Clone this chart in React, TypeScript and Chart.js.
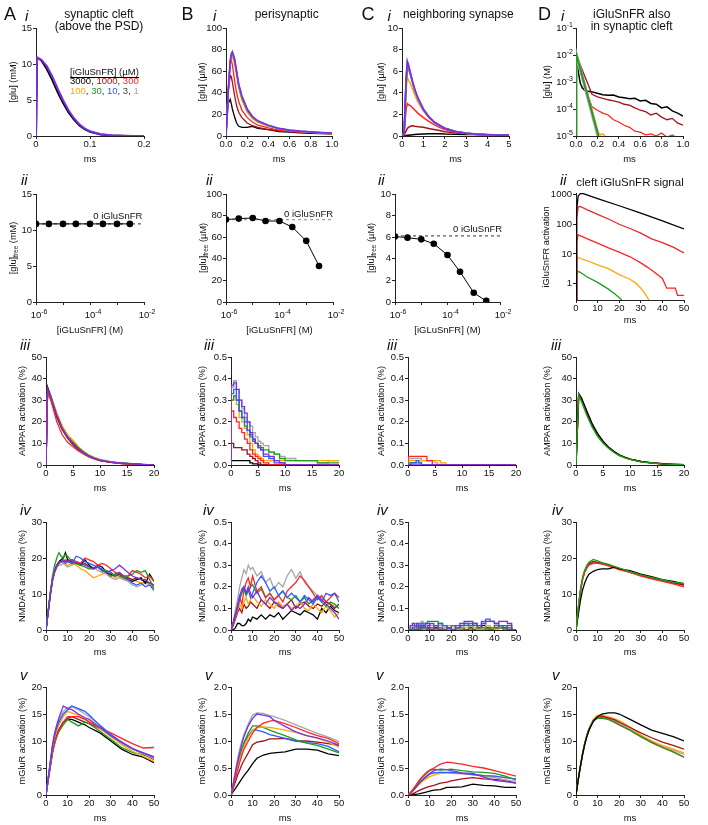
import React, { useEffect, useRef } from "react";
import { Chart, registerables } from "chart.js";
Chart.register(...registerables);

const FONT = '"Liberation Sans", Arial, Helvetica, sans-serif';
const K = "#000000", DR = "#a51218", R = "#ff2424", O = "#ffa800", G = "#1c9e1c", B = "#2a5cff", P = "#7b2fe3", GY = "#a6a6a6";

// ---------- Row i : [glu] transients ----------
const A1_T = [0, 0.002, 0.01, 0.02, 0.03, 0.04, 0.05, 0.06, 0.07, 0.08, 0.09, 0.1, 0.12, 0.14, 0.16, 0.18, 0.2];
const A1_BLACK = [0, 10.9, 10.5, 9.3, 7.8, 6.1, 4.6, 3.3, 2.3, 1.5, 0.95, 0.6, 0.22, 0.08, 0.03, 0.01, 0];
const A1_PURPLE = [0, 10.9, 10.6, 9.7, 8.3, 6.6, 5.0, 3.6, 2.5, 1.65, 1.05, 0.65, 0.25, 0.09, 0.03, 0.01, 0];

const B1_T = [0, 0.02, 0.04, 0.05, 0.06, 0.08, 0.1, 0.12, 0.15, 0.2, 0.25, 0.3, 0.4, 0.5, 0.6, 0.7, 0.8, 0.9, 1.0];
const B1_BLACK = [0, 30, 34, 30, 25, 18, 12, 9, 8, 8, 9, 7, 6, 4, 3.5, 3, 2.5, 2.2, 2];
const B1_DARKRED = [0, 40, 56, 55, 50, 38, 28, 22, 17, 12, 9.5, 8, 6, 5, 4, 3.4, 2.8, 2.4, 2.2];
const B1_RED = [0, 42, 67, 70, 66, 52, 40, 32, 24, 17, 13, 10, 7.5, 5.5, 4.5, 3.8, 3.3, 2.8, 2.5];
const B1_ORANGE = [0, 40, 68, 73, 73, 67, 56, 44, 33, 22, 16, 12.5, 9, 6.5, 5, 4, 3.4, 2.9, 2.5];
const B1_GREEN = [0, 40, 69, 75, 76, 70, 58, 46, 35, 23.5, 17, 13.2, 9.5, 6.8, 5.3, 4.3, 3.6, 3.0, 2.6];
const B1_BLUE = [0, 40, 69, 75, 77, 71, 59, 47.5, 36.5, 24.5, 17.8, 13.8, 9.8, 6.9, 5.4, 4.4, 3.7, 3.1, 2.7];
const B1_GRAY = [0, 39, 69, 75, 77, 71, 59, 47, 36, 24.5, 17.5, 13.5, 9.5, 6.8, 5.3, 4.3, 3.6, 3.1, 2.7];
const B1_PURPLE = [0, 40, 70, 76, 78, 72, 60, 48, 37, 25, 18, 14, 10, 7, 5.5, 4.5, 3.8, 3.2, 2.8];

const C1_T = [0, 0.1, 0.15, 0.2, 0.25, 0.3, 0.4, 0.5, 0.6, 0.75, 1, 1.25, 1.5, 1.75, 2, 2.5, 3, 3.5, 4, 4.5, 5];
const C1_BLACK = [0, 0, 0.02, 0.04, 0.06, 0.08, 0.1, 0.12, 0.14, 0.16, 0.18, 0.2, 0.2, 0.2, 0.18, 0.17, 0.15, 0.13, 0.12, 0.1, 0.09];
const C1_DARKRED = [0, 0.05, 0.3, 0.5, 0.7, 0.8, 0.9, 0.95, 0.9, 0.85, 0.8, 0.7, 0.6, 0.5, 0.4, 0.3, 0.2, 0.15, 0.1, 0.08, 0.06];
const C1_RED = [0, 0.2, 1.5, 2.6, 3.0, 2.9, 2.8, 2.6, 2.4, 2.1, 1.7, 1.35, 1.05, 0.8, 0.6, 0.35, 0.22, 0.15, 0.1, 0.08, 0.05];
const C1_ORANGE = [0, 0.3, 2.5, 4.5, 5.4, 5.2, 4.8, 4.3, 3.8, 3.1, 2.3, 1.7, 1.25, 0.95, 0.7, 0.42, 0.26, 0.17, 0.12, 0.09, 0.07];
const C1_GREEN = [0, 0.3, 2.8, 5, 6.1, 6.2, 5.6, 4.9, 4.2, 3.4, 2.4, 1.75, 1.3, 1, 0.75, 0.45, 0.28, 0.18, 0.12, 0.09, 0.07];
const C1_BLUE = [0, 0.3, 3, 5.4, 6.7, 6.5, 5.7, 4.9, 4.2, 3.4, 2.4, 1.75, 1.25, 0.95, 0.7, 0.4, 0.25, 0.17, 0.12, 0.09, 0.07];
const C1_GRAY = [0, 0.3, 3, 5.4, 6.8, 6.5, 5.7, 4.9, 4.2, 3.4, 2.4, 1.75, 1.25, 0.95, 0.7, 0.4, 0.25, 0.17, 0.12, 0.09, 0.07];
const C1_PURPLE = [0, 0.3, 3, 5.5, 6.9, 6.6, 5.8, 5, 4.3, 3.5, 2.5, 1.8, 1.3, 1, 0.7, 0.4, 0.25, 0.17, 0.12, 0.09, 0.07];

const D1_BLACK_T = [0, 0.002, 0.02, 0.04, 0.06, 0.08, 0.1, 0.15, 0.2, 0.25, 0.3, 0.35, 0.4, 0.45, 0.5, 0.55, 0.6, 0.65, 0.7, 0.75, 0.8, 0.85, 0.9, 0.95, 1.0];
const D1_BLACK = [1e-7, 1.1e-2, 2.5e-3, 9e-4, 6e-4, 5e-4, 4.6e-4, 4.3e-4, 3.8e-4, 3.4e-4, 3.2e-4, 3.3e-4, 2.8e-4, 2.6e-4, 2.4e-4, 2.5e-4, 2e-4, 2.1e-4, 1.6e-4, 1.5e-4, 1.1e-4, 1.2e-4, 8.5e-5, 7e-5, 5.5e-5];
const D1_DARKRED_T = [0, 0.002, 0.05, 0.1, 0.15, 0.2, 0.25, 0.3, 0.35, 0.4, 0.45, 0.5, 0.55, 0.6, 0.65, 0.7, 0.75, 0.8, 0.85, 0.9, 0.95, 1.0];
const D1_DARKRED = [1e-7, 1.1e-2, 3.4e-3, 1.1e-3, 3.5e-4, 2.8e-4, 2.5e-4, 2.2e-4, 2e-4, 1.8e-4, 1.5e-4, 1.4e-4, 1.1e-4, 9e-5, 8e-5, 6e-5, 7e-5, 5e-5, 4e-5, 4.5e-5, 3e-5, 2.5e-5];
const D1_RED_T = [0, 0.002, 0.05, 0.1, 0.12, 0.15, 0.2, 0.25, 0.3, 0.35, 0.4, 0.45, 0.5, 0.55, 0.6, 0.65, 0.7, 0.75, 0.8, 0.85, 0.9, 0.95, 1.0];
const D1_RED = [1e-7, 1.1e-2, 2.3e-3, 5e-4, 2.5e-4, 1.2e-4, 9e-5, 7e-5, 6e-5, 4e-5, 3.3e-5, 2.5e-5, 2.1e-5, 1.5e-5, 1.4e-5, 1.1e-5, 1.2e-5, 1e-5, 1.3e-5, 9e-6, 1.1e-5, 8e-6, 9e-6];
const D1_ORANGE_T = [0, 0.002, 0.21, 0.23, 0.25, 0.27, 0.28];
const D1_ORANGE = [1e-7, 1.1e-2, 1.3e-5, 1.1e-5, 1.2e-5, 1e-5, 5e-6];
const D1_GRAY_T = [0, 0.002, 0.205, 0.22];
const D1_GRAY = [1e-7, 1.1e-2, 1e-5, 1e-6];
const D1_GREEN_T = [0, 0.002, 0.21, 0.225];
const D1_GREEN = [1e-7, 1.1e-2, 1e-5, 1e-6];

// ---------- Row ii : free glutamate vs [iGluSnFR] ----------
const CONC = [1e-6, 3e-6, 1e-5, 3e-5, 1e-4, 3e-4, 1e-3, 3e-3];
const A2_FREE = [10.85, 10.85, 10.85, 10.85, 10.85, 10.85, 10.85, 10.85];
const A2_ZERO = 10.85;
const B2_FREE = [76.3, 77.2, 77.8, 75, 75, 69.4, 56.6, 33.4];
const B2_ZERO = 76.2;
const C2_FREE = [6.06, 5.96, 5.8, 5.4, 4.35, 2.8, 0.85, 0.1];
const C2_ZERO = 6.12;

const D2_BLACK_T = [0, 0.3, 1, 2, 3, 10, 20, 30, 40, 50];
const D2_BLACK = [0.1, 300, 900, 1080, 1100, 730, 420, 235, 130, 70];
const D2_DARKRED_T = [0, 0.3, 1, 2, 5, 10, 15, 20, 25, 30, 35, 40, 45, 50];
const D2_DARKRED = [0.1, 150, 380, 400, 310, 215, 150, 100, 72, 50, 32, 24, 17, 10.7];
const D2_RED_T = [0, 0.3, 1, 3, 5, 10, 15, 20, 25, 30, 33, 36, 40, 42, 46, 47, 50];
const D2_RED = [0.1, 25, 44, 38, 33, 23, 16, 11.5, 8, 5, 3.6, 2.5, 1.5, 0.7, 0.7, 0.4, 0.4];
const D2_ORANGE_T = [0, 0.3, 1, 2, 5, 10, 15, 20, 25, 28, 30, 32, 33.5, 34];
const D2_ORANGE = [0.1, 6, 7.7, 7, 6, 4.3, 3.2, 2, 1.4, 1.0, 0.7, 0.45, 0.3, 0.2];
const D2_GREEN_T = [0, 0.3, 1, 2, 5, 10, 15, 18, 21, 21.5];
const D2_GREEN = [0.1, 2, 2.6, 2.4, 1.7, 1.1, 0.65, 0.45, 0.29, 0.2];

// ---------- Row iii : AMPAR ----------
const A3_T = [0, 0.3, 1, 2, 3, 4, 5, 6, 7, 8, 9, 10, 12, 14, 16, 18, 20];
const A3_BLACK = [0, 36, 31, 23, 17, 13, 10, 7.5, 5.5, 4, 3, 2.2, 1.3, 0.8, 0.5, 0.2, 0];
const A3_DARKRED = [0, 35, 30, 22, 16.5, 12.5, 9.5, 7, 5.2, 3.8, 2.8, 2, 1.2, 0.7, 0.4, 0.2, 0];
const A3_RED = [0, 34, 29, 20, 14, 10.5, 8.5, 6.5, 5, 3.8, 2.8, 2, 1.2, 0.7, 0.4, 0.2, 0];
const A3_ORANGE = [0, 35, 31, 24, 18, 14, 11.5, 8.5, 6.2, 4.5, 3.3, 2.4, 1.4, 0.9, 0.5, 0.2, 0];
const A3_GREEN = [0, 35, 30.5, 23, 17, 13, 10.5, 8, 6, 4.3, 3.2, 2.3, 1.4, 0.9, 0.6, 0.3, 0.1];
const A3_BLUE = [0, 35, 30, 22.5, 16.5, 12.5, 9.5, 7.2, 5.3, 3.9, 2.9, 2.1, 1.2, 0.8, 0.5, 0.2, 0];
const A3_GRAY = [0, 36, 31.5, 24, 18, 13.8, 10.8, 8.2, 6.1, 4.6, 3.5, 2.6, 1.6, 1, 0.6, 0.3, 0.1];
const A3_PURPLE = [0, 35, 30.5, 23, 17, 12.8, 10, 7.5, 5.5, 4, 3, 2.2, 1.3, 0.8, 0.5, 0.2, 0];

const B3_T = [0, 0.5, 1, 1.5, 2, 2.5, 3, 3.5, 4, 4.5, 5, 5.5, 6, 7, 8, 9, 10, 11, 12, 14, 16, 17, 18, 20];
const B3_BLACK = [0, 0.02, 0.02, 0.02, 0.02, 0.02, 0.02, 0.02, 0.01, 0.005, 0.005, 0, 0, 0, 0, 0, 0, 0, 0, 0, 0, 0, 0, 0];
const B3_DARKRED = [0, 0.1, 0.08, 0.08, 0.08, 0.07, 0.07, 0.05, 0.04, 0.03, 0.02, 0.01, 0, 0, 0, 0, 0, 0, 0, 0, 0, 0, 0, 0];
const B3_RED = [0, 0.25, 0.22, 0.2, 0.17, 0.15, 0.12, 0.1, 0.07, 0.05, 0.04, 0.03, 0.02, 0.01, 0, 0, 0, 0, 0, 0, 0, 0, 0, 0];
const B3_ORANGE = [0, 0.3, 0.32, 0.28, 0.22, 0.2, 0.17, 0.14, 0.1, 0.07, 0.05, 0.04, 0.03, 0.02, 0.02, 0.02, 0.02, 0.02, 0.02, 0.02, 0.02, 0.02, 0.02, 0.02];
const B3_GREEN = [0, 0.3, 0.32, 0.3, 0.25, 0.22, 0.18, 0.16, 0.14, 0.12, 0.1, 0.09, 0.08, 0.07, 0.06, 0.05, 0.03, 0.02, 0.02, 0.02, 0.02, 0.01, 0.01, 0.01];
const B3_BLUE = [0, 0.33, 0.35, 0.3, 0.25, 0.22, 0.2, 0.16, 0.13, 0.11, 0.1, 0.08, 0.07, 0.04, 0.03, 0.01, 0.01, 0, 0, 0, 0, 0, 0, 0];
const B3_GRAY = [0, 0.36, 0.39, 0.35, 0.3, 0.26, 0.22, 0.2, 0.18, 0.15, 0.13, 0.11, 0.1, 0.09, 0.06, 0.05, 0.04, 0.03, 0.03, 0.02, 0.02, 0.01, 0.01, 0.02];
const B3_PURPLE = [0, 0.37, 0.38, 0.35, 0.3, 0.27, 0.24, 0.2, 0.15, 0.12, 0.1, 0.08, 0.07, 0.05, 0.04, 0.02, 0.01, 0, 0, 0, 0, 0, 0, 0];

const C3_RED = [0, 0.04, 0.04, 0.04, 0.04, 0.04, 0.04, 0.04, 0.02, 0.02, 0, 0, 0, 0, 0, 0, 0, 0, 0, 0, 0, 0, 0, 0];
const C3_ORANGE = [0, 0.02, 0.02, 0.02, 0.02, 0.02, 0.02, 0.02, 0.02, 0.02, 0.02, 0.02, 0.02, 0.01, 0, 0, 0, 0, 0, 0, 0, 0, 0, 0];
const C3_GRAY = [0, 0.03, 0.03, 0.03, 0.03, 0.03, 0.02, 0.02, 0.02, 0.02, 0.02, 0.01, 0, 0, 0, 0, 0, 0, 0, 0, 0, 0, 0, 0];
const C3_BLUE = [0, 0, 0.01, 0.01, 0.02, 0.01, 0, 0, 0, 0, 0, 0, 0, 0, 0, 0, 0, 0, 0, 0, 0, 0, 0, 0];
const C3_GREEN = [0, 0.01, 0.01, 0.01, 0.01, 0.01, 0, 0, 0, 0, 0, 0, 0, 0, 0, 0, 0, 0, 0, 0, 0, 0, 0, 0];
const C3_PURPLE = [0, 0, 0, 0, 0, 0, 0, 0, 0, 0, 0, 0, 0, 0, 0, 0, 0, 0, 0, 0, 0, 0, 0, 0];

const D3_T = [0, 0.5, 1, 2, 3, 4, 5, 6, 7, 8, 9, 10, 12, 14, 16, 18, 20];
const D3_BLACK = [0, 33, 31, 25, 19, 14.5, 11, 8.3, 6.3, 4.7, 3.6, 2.7, 1.6, 1, 0.6, 0.3, 0.1];
const D3_DARKRED = [0, 33, 31, 24.5, 18.7, 14.3, 10.9, 8.2, 6.2, 4.6, 3.5, 2.7, 1.6, 1, 0.6, 0.3, 0.1];
const D3_RED = [0, 32.5, 30.5, 24, 18.5, 14, 10.7, 8.1, 6.1, 4.6, 3.5, 2.7, 1.6, 1, 0.6, 0.3, 0.1];
const D3_ORANGE = [0, 32, 30, 23.5, 18, 13.6, 10.4, 7.9, 6, 4.5, 3.4, 2.6, 1.5, 0.9, 0.5, 0.3, 0.1];
const D3_GREEN = [0, 32.5, 29.5, 23, 17.5, 13.3, 10.2, 7.8, 5.9, 4.4, 3.4, 2.6, 1.5, 0.9, 0.5, 0.3, 0.1];

// ---------- Row iv : NMDAR ----------
const T31 = [0, 1, 2, 3, 4, 5, 6, 7, 8, 9, 10, 12, 14, 16, 18, 20, 22, 24, 26, 28, 30, 32, 34, 36, 38, 40, 42, 44, 46, 48, 50];
const A4_BLACK = [0, 5, 10, 14, 16.5, 18, 19, 19.5, 20, 21.5, 19.5, 19, 18.5, 18, 19.5, 18, 17, 18, 17.5, 16, 15.5, 15, 15.5, 14.5, 14, 13.5, 14, 14.5, 13, 15.5, 13.5];
const A4_DARKRED = [0, 5, 10, 14, 16.5, 18, 18.5, 19, 19, 19, 19.5, 18.5, 19, 18, 18.5, 17.5, 17, 17.5, 16.5, 16, 15, 15.5, 16, 15, 14.5, 14, 14.5, 14, 13.5, 13, 12.5];
const A4_RED = [0, 5, 9.5, 13.5, 16, 17.5, 18.5, 19, 19, 19.5, 19, 19.5, 19, 18.5, 20, 19.5, 19, 18, 18.5, 18, 17, 16, 15.5, 15, 15, 16.5, 16, 15.5, 14.5, 15, 13.5];
const A4_ORANGE = [0, 5, 10, 14, 16.5, 18, 19, 19.5, 19, 18.5, 18, 18.5, 18, 17, 16.5, 15.5, 14.5, 15, 15.5, 16, 15, 14.5, 15, 14, 14.5, 14, 13.5, 13, 13.5, 12.5, 12];
const A4_GREEN = [0, 5.5, 10.5, 15, 18, 20, 21.5, 20.5, 20, 21, 20.5, 19, 18.5, 18, 17.5, 17, 17, 17.5, 16.5, 16.5, 15, 15.5, 15, 14.5, 15, 15.5, 16.5, 16, 16.5, 14, 11.5];
const A4_BLUE = [0, 5, 10, 14, 16.5, 18, 18.5, 19, 19, 18.5, 19, 18.5, 20.5, 20, 19, 18.5, 18, 17.5, 17, 16.5, 16, 15, 16, 14.5, 14, 13, 12.5, 13, 12, 12.5, 11];
const A4_GRAY = [0, 5, 10, 14, 16, 17.5, 18, 18, 18.5, 18, 17.5, 18, 18.5, 18, 17.5, 17, 17.5, 16.5, 16, 15.5, 14.5, 14, 14.5, 14, 13.5, 12.5, 12, 12.5, 13, 12.5, 12];
const A4_PURPLE = [0, 5, 10, 14, 16.5, 18, 19, 19, 19.5, 19, 19, 19.5, 18.5, 18.5, 18, 17.5, 17, 17.5, 16.5, 16, 16.5, 17, 18, 17, 16, 15, 14.5, 14, 14, 13, 12.5];

const B4_BLACK = [0, 0, 0.01, 0.03, 0.03, 0.02, 0.02, 0.03, 0.05, 0.04, 0.06, 0.05, 0.07, 0.05, 0.07, 0.06, 0.08, 0.05, 0.07, 0.09, 0.08, 0.07, 0.09, 0.08, 0.07, 0.05, 0.1, 0.08, 0.11, 0.09, 0.08];
const B4_DARKRED = [0, 0.02, 0.05, 0.08, 0.1, 0.08, 0.12, 0.1, 0.11, 0.13, 0.12, 0.1, 0.14, 0.12, 0.1, 0.13, 0.11, 0.1, 0.12, 0.14, 0.1, 0.12, 0.13, 0.11, 0.1, 0.12, 0.11, 0.13, 0.12, 0.1, 0.12];
const B4_RED = [0, 0.03, 0.06, 0.1, 0.15, 0.12, 0.18, 0.22, 0.24, 0.2, 0.25, 0.18, 0.2, 0.15, 0.17, 0.14, 0.16, 0.13, 0.18, 0.2, 0.22, 0.25, 0.23, 0.2, 0.17, 0.14, 0.16, 0.13, 0.15, 0.17, 0.15];
const B4_ORANGE = [0, 0.03, 0.06, 0.09, 0.12, 0.1, 0.13, 0.15, 0.12, 0.14, 0.16, 0.13, 0.11, 0.14, 0.12, 0.1, 0.13, 0.11, 0.12, 0.1, 0.11, 0.13, 0.1, 0.09, 0.12, 0.1, 0.08, 0.11, 0.09, 0.06, 0.08];
const B4_GREEN = [0, 0.03, 0.07, 0.1, 0.14, 0.17, 0.19, 0.16, 0.18, 0.2, 0.21, 0.17, 0.19, 0.15, 0.17, 0.14, 0.16, 0.18, 0.15, 0.14, 0.16, 0.13, 0.15, 0.12, 0.14, 0.16, 0.13, 0.11, 0.13, 0.12, 0.1];
const B4_BLUE = [0, 0.03, 0.07, 0.11, 0.16, 0.18, 0.2, 0.17, 0.19, 0.15, 0.17, 0.22, 0.25, 0.22, 0.18, 0.2, 0.16, 0.18, 0.15, 0.17, 0.15, 0.13, 0.16, 0.14, 0.12, 0.15, 0.13, 0.17, 0.16, 0.17, 0.13];
const B4_GRAY = [0, 0.04, 0.09, 0.14, 0.2, 0.24, 0.28, 0.26, 0.3, 0.28, 0.29, 0.25, 0.27, 0.22, 0.24, 0.19, 0.22, 0.2, 0.25, 0.28, 0.24, 0.27, 0.22, 0.2, 0.18, 0.16, 0.15, 0.13, 0.12, 0.11, 0.1];
const B4_PURPLE = [0, 0.03, 0.07, 0.11, 0.15, 0.19, 0.2, 0.17, 0.2, 0.17, 0.15, 0.18, 0.14, 0.12, 0.15, 0.13, 0.12, 0.1, 0.12, 0.09, 0.11, 0.1, 0.12, 0.15, 0.13, 0.16, 0.14, 0.12, 0.1, 0.08, 0.05];

const C4_BLACK = [0, 0, 0, 0, 0, 0, 0.01, 0, 0.01, 0, 0.01, 0, 0.01, 0, 0, 0.01, 0, 0, 0.01, 0, 0.01, 0, 0.01, 0.02, 0.01, 0, 0.01, 0.02, 0.01, 0, 0];
const C4_RED = [0, 0, 0, 0, 0, 0, 0, 0, 0, 0, 0, 0, 0, 0, 0, 0, 0, 0, 0, 0, 0, 0, 0, 0, 0, 0, 0.01, 0.01, 0, 0, 0];
const C4_ORANGE = [0, 0, 0, 0.01, 0.02, 0.01, 0.02, 0.01, 0, 0.01, 0.02, 0.01, 0.02, 0.01, 0.01, 0, 0.01, 0, 0.01, 0.01, 0.02, 0.01, 0, 0.01, 0.02, 0.01, 0, 0.01, 0.02, 0.01, 0];
const C4_GREEN = [0, 0, 0, 0, 0.01, 0.02, 0.01, 0.02, 0.01, 0.03, 0.04, 0.04, 0.04, 0.03, 0.02, 0.01, 0.02, 0.01, 0.02, 0.02, 0.03, 0.02, 0.01, 0.01, 0, 0.01, 0.02, 0.01, 0.02, 0.01, 0];
const C4_BLUE = [0, 0, 0, 0.01, 0.02, 0.01, 0.02, 0.03, 0.02, 0.01, 0.02, 0.03, 0.02, 0.03, 0.02, 0.01, 0, 0.01, 0.02, 0.03, 0.02, 0.03, 0.02, 0.04, 0.05, 0.04, 0.03, 0.02, 0.01, 0.02, 0];
const C4_GRAY = [0, 0, 0.01, 0.02, 0.03, 0.02, 0.03, 0.04, 0.03, 0.02, 0.01, 0.02, 0.01, 0.02, 0.01, 0.02, 0.02, 0.01, 0.02, 0.03, 0.02, 0.01, 0.02, 0.03, 0.02, 0.01, 0.02, 0.01, 0.02, 0.01, 0];
const C4_PURPLE = [0, 0, 0.02, 0.03, 0.02, 0.03, 0.02, 0.01, 0.02, 0.03, 0.03, 0.01, 0.02, 0.01, 0, 0.01, 0, 0.02, 0.03, 0.04, 0.04, 0.03, 0.02, 0.03, 0.04, 0.04, 0.03, 0.04, 0.04, 0.03, 0];

const T19 = [0, 1, 2, 3, 4, 5, 6, 8, 10, 12, 15, 18, 20, 25, 30, 35, 40, 45, 50];
const D4_BLACK = [0, 4, 8, 11, 13, 14.5, 15.5, 16.3, 16.8, 17, 17, 17.5, 17, 16.5, 15.5, 14.8, 14, 13.5, 12.8];
const D4_DARKRED = [0, 5.5, 10.5, 14, 16.2, 17.4, 18.3, 19, 18.8, 18.5, 18, 17.4, 17, 16, 15.2, 14.4, 13.7, 13.1, 12.5];
const D4_RED = [0, 5.5, 10.5, 14, 16, 17.2, 18, 18.5, 18.5, 18.3, 17.8, 17.2, 16.8, 16, 15, 14.2, 13.5, 12.8, 12];
const D4_ORANGE = [0, 5.5, 10.7, 14.2, 16.4, 17.6, 18.5, 19, 18.8, 18.6, 18.2, 17.6, 17.2, 16.2, 15.3, 14.5, 13.8, 13.1, 12.6];
const D4_GREEN = [0, 5.8, 11, 14.5, 16.6, 17.9, 18.8, 19.6, 19.2, 18.7, 18.2, 17.6, 17.2, 16.2, 15.3, 14.6, 13.9, 13.3, 12.9];

// ---------- Row v : mGluR ----------
const A5_BLACK = [0, 2.8, 5.5, 8, 9.8, 11, 12, 13.5, 14, 14, 13.5, 13, 12.5, 11.5, 10, 8.5, 7.5, 7, 6];
const A5_DARKRED = [0, 2.8, 5.5, 8, 10, 11.2, 12.2, 13.5, 14.2, 14.5, 14, 13.5, 13.2, 12.3, 11, 9.6, 8.6, 7.6, 6.6];
const A5_RED = [0, 2.6, 5.2, 7.8, 9.6, 11, 12, 13.5, 14.5, 14.5, 14.5, 14, 13.5, 12.5, 11.5, 10.5, 9.5, 8.7, 8.8];
const A5_ORANGE = [0, 2.9, 5.8, 8.6, 10.5, 12, 13, 14.5, 15.5, 15.2, 14.8, 14.2, 13.6, 12.3, 10.8, 9.3, 8.1, 7.2, 6.2];
const A5_GREEN = [0, 2.8, 5.4, 7.8, 9.5, 10.8, 11.8, 13, 14, 13.5, 12.8, 13.5, 13.2, 11.8, 10.3, 8.8, 7.9, 7.4, 7];
const A5_BLUE = [0, 3, 6, 9, 11, 12.5, 13.5, 15, 15.8, 16.5, 16, 15.5, 14.8, 12.8, 11.2, 9.8, 8.6, 7.8, 7];
const A5_GRAY = [0, 3, 6, 9, 11.2, 12.8, 14, 15.5, 16.2, 16.3, 15.8, 15, 14.5, 13, 11.2, 9.6, 8.5, 7.6, 6.8];
const A5_PURPLE = [0, 3.1, 6.2, 9.3, 11.5, 13, 14.3, 16.5, 16, 15.8, 15, 14.3, 14, 12.5, 11, 9.8, 8.6, 7.8, 7.1];

const B5_BLACK = [0, 0.06, 0.12, 0.18, 0.24, 0.3, 0.36, 0.46, 0.58, 0.68, 0.74, 0.77, 0.78, 0.8, 0.85, 0.85, 0.83, 0.76, 0.73];
const B5_DARKRED = [0, 0.12, 0.24, 0.36, 0.46, 0.56, 0.64, 0.78, 0.93, 0.98, 1.0, 1.04, 1.04, 1.05, 1.0, 1.0, 0.98, 0.95, 0.92];
const B5_RED = [0, 0.15, 0.3, 0.45, 0.6, 0.73, 0.85, 1.0, 1.15, 1.25, 1.33, 1.37, 1.38, 1.32, 1.25, 1.17, 1.1, 1.05, 0.95];
const B5_ORANGE = [0, 0.17, 0.34, 0.5, 0.65, 0.78, 0.9, 1.07, 1.2, 1.25, 1.26, 1.25, 1.24, 1.2, 1.16, 1.1, 1.05, 0.98, 0.88];
const B5_GREEN = [0, 0.18, 0.36, 0.54, 0.7, 0.84, 0.97, 1.15, 1.28, 1.28, 1.25, 1.2, 1.17, 1.1, 1.02, 0.96, 0.92, 0.85, 0.78];
const B5_BLUE = [0, 0.18, 0.36, 0.54, 0.7, 0.84, 0.95, 1.1, 1.2, 1.2, 1.17, 1.12, 1.1, 1.05, 1.0, 0.97, 0.95, 0.9, 0.8];
const B5_GRAY = [0, 0.22, 0.44, 0.66, 0.85, 1.0, 1.12, 1.32, 1.48, 1.52, 1.51, 1.47, 1.45, 1.38, 1.3, 1.22, 1.14, 1.07, 0.99];
const B5_PURPLE = [0, 0.2, 0.4, 0.6, 0.78, 0.94, 1.08, 1.28, 1.42, 1.5, 1.48, 1.45, 1.38, 1.27, 1.17, 1.1, 1.06, 1.0, 0.92];

const C5_BLACK = [0, 0, 0.005, 0.01, 0.015, 0.02, 0.03, 0.05, 0.07, 0.09, 0.1, 0.14, 0.14, 0.15, 0.2, 0.18, 0.17, 0.14, 0.14];
const C5_DARKRED = [0, 0.01, 0.02, 0.04, 0.06, 0.08, 0.1, 0.13, 0.16, 0.18, 0.22, 0.24, 0.26, 0.3, 0.32, 0.3, 0.29, 0.27, 0.22];
const C5_RED = [0, 0.04, 0.09, 0.14, 0.2, 0.26, 0.31, 0.4, 0.46, 0.5, 0.57, 0.61, 0.6, 0.57, 0.53, 0.5, 0.45, 0.4, 0.35];
const C5_ORANGE = [0, 0.03, 0.07, 0.11, 0.15, 0.19, 0.23, 0.29, 0.34, 0.37, 0.4, 0.41, 0.42, 0.4, 0.38, 0.36, 0.35, 0.32, 0.3];
const C5_GREEN = [0, 0.04, 0.09, 0.14, 0.19, 0.25, 0.3, 0.38, 0.45, 0.48, 0.46, 0.47, 0.48, 0.45, 0.43, 0.42, 0.4, 0.35, 0.28];
const C5_BLUE = [0, 0.03, 0.07, 0.11, 0.16, 0.21, 0.26, 0.33, 0.39, 0.41, 0.42, 0.42, 0.42, 0.4, 0.38, 0.36, 0.35, 0.32, 0.3];
const C5_GRAY = [0, 0.03, 0.07, 0.11, 0.15, 0.2, 0.24, 0.31, 0.38, 0.41, 0.42, 0.41, 0.4, 0.39, 0.38, 0.35, 0.32, 0.28, 0.25];
const C5_PURPLE = [0, 0.03, 0.07, 0.11, 0.16, 0.21, 0.25, 0.33, 0.4, 0.45, 0.48, 0.47, 0.45, 0.41, 0.4, 0.33, 0.27, 0.25, 0.22];

const D5_BLACK = [0, 2.7, 5.2, 7.4, 9.3, 10.8, 12, 13.6, 14.5, 15, 15.2, 15.2, 15, 14, 13, 12, 11.4, 10.8, 10];
const D5_DARKRED = [0, 2.7, 5.2, 7.4, 9.3, 10.8, 12, 13.8, 14.5, 14.6, 14.3, 13.9, 13.5, 12.5, 11.5, 10.6, 9.8, 9.2, 8.5];
const D5_RED = [0, 2.8, 5.3, 7.6, 9.5, 11, 12.2, 13.8, 14.5, 14.4, 14, 13.4, 13, 12, 10.8, 9.7, 8.8, 8, 7];
const D5_ORANGE = [0, 2.8, 5.3, 7.6, 9.5, 11, 12.3, 14, 14.8, 14.8, 14.5, 14.1, 13.8, 12.6, 11.1, 10, 9.2, 8.5, 7.8];
const D5_GRAY = [0, 2.8, 5.3, 7.6, 9.5, 11, 12.2, 13.8, 14.3, 14.4, 14.2, 13.7, 13.2, 12.2, 11, 10, 9, 8.3, 7.5];
const D5_GREEN = [0, 2.8, 5.3, 7.6, 9.5, 11, 12.2, 13.7, 14.2, 14.2, 14, 13.5, 13, 12, 10.8, 9.8, 8.8, 8, 7];

// ---------- axes ----------
const lin = (min: number, max: number, ticks: number[], labels?: string[]) => ({ min, max, ticks, labels });
const X_02 = lin(0, 0.2, [0, 0.1, 0.2], ["0", "0.1", "0.2"]);
const X_1 = lin(0, 1, [0, 0.2, 0.4, 0.6, 0.8, 1], ["0.0", "0.2", "0.4", "0.6", "0.8", "1.0"]);
const X_5 = lin(0, 5, [0, 1, 2, 3, 4, 5]);
const X_20 = lin(0, 20, [0, 5, 10, 15, 20]);
const X_50 = lin(0, 50, [0, 10, 20, 30, 40, 50]);
const X_CONC = { min: 1e-6, max: 1e-2, log: true, ticks: [1e-6, 1e-5, 1e-4, 1e-3, 1e-2], sup: ["-6", "", "-4", "", "-2"] };
const Y_15 = lin(0, 15, [0, 5, 10, 15]);
const Y_100 = lin(0, 100, [0, 20, 40, 60, 80, 100]);
const Y_10 = lin(0, 10, [0, 2, 4, 6, 8, 10]);
const Y_LOGM = { min: 1e-5, max: 1e-1, log: true, ticks: [1e-5, 1e-4, 1e-3, 1e-2, 1e-1], sup: ["-5", "-4", "-3", "-2", "-1"] };
const Y_SIG = { min: 0.28, max: 1130, log: true, ticks: [1, 10, 100, 1000], labels: ["1", "10", "100", "1000"] };
const Y_50 = lin(0, 50, [0, 10, 20, 30, 40, 50]);
const Y_30 = lin(0, 30, [0, 10, 20, 30]);
const Y_20 = lin(0, 20, [0, 5, 10, 15, 20]);
const Y_05 = lin(0, 0.5, [0, 0.1, 0.2, 0.3, 0.4, 0.5], ["0.0", "0.1", "0.2", "0.3", "0.4", "0.5"]);
const Y_2 = lin(0, 2, [0, 0.5, 1, 1.5, 2], ["0.0", "0.5", "1.0", "1.5", "2.0"]);

const S = (t: number[], v: number[], c: string, o: any = {}) => ({ t, v, c, ...o });

// series listed bottom -> top
const PANELS = [
  { l: 36, t: 28, w: 108, h: 108, x: X_02, y: Y_15, s: [S(A1_T, A1_BLACK, K, { w: 2 }), S(A1_T, A1_PURPLE, P, { w: 2 })] },
  { l: 226, t: 28, w: 106, h: 108, x: X_1, y: Y_100, s: [S(B1_T, B1_BLACK, K), S(B1_T, B1_DARKRED, DR), S(B1_T, B1_RED, R), S(B1_T, B1_ORANGE, O), S(B1_T, B1_GREEN, G), S(B1_T, B1_BLUE, B), S(B1_T, B1_GRAY, GY), S(B1_T, B1_PURPLE, P, { w: 1.7 })] },
  { l: 402, t: 28, w: 107, h: 108, x: X_5, y: Y_10, s: [S(C1_T, C1_BLACK, K, { w: 1.5 }), S(C1_T, C1_DARKRED, DR, { w: 1.5 }), S(C1_T, C1_RED, R, { w: 1.5 }), S(C1_T, C1_ORANGE, O, { w: 1.5 }), S(C1_T, C1_GREEN, G, { w: 1.5 }), S(C1_T, C1_BLUE, B, { w: 1.5 }), S(C1_T, C1_GRAY, GY, { w: 1.5 }), S(C1_T, C1_PURPLE, P, { w: 1.8 })] },
  { l: 576, t: 28, w: 107, h: 108, x: X_1, y: Y_LOGM, s: [S(D1_BLACK_T, D1_BLACK, K, { w: 1.5 }), S(D1_DARKRED_T, D1_DARKRED, DR), S(D1_RED_T, D1_RED, R), S(D1_ORANGE_T, D1_ORANGE, O, { w: 1.5 }), S(D1_GRAY_T, D1_GRAY, GY, { w: 3 }), S(D1_GREEN_T, D1_GREEN, G, { w: 1.8 })] },

  { l: 36, t: 194, w: 108, h: 108, x: X_CONC, y: Y_15, s: [S([1e-6, 1e-2], [A2_ZERO, A2_ZERO], "#333", { dash: [3, 3], w: 1 }), S(CONC, A2_FREE, K, { pts: true, w: 1 })] },
  { l: 226, t: 194, w: 107, h: 108, x: X_CONC, y: Y_100, s: [S([1e-6, 1e-2], [B2_ZERO, B2_ZERO], "#888", { dash: [3, 3], w: 1 }), S(CONC, B2_FREE, K, { pts: true, w: 1 })] },
  { l: 395, t: 194, w: 105, h: 108, x: X_CONC, y: Y_10, s: [S([1e-6, 1e-2], [C2_ZERO, C2_ZERO], "#333", { dash: [3, 3], w: 1 }), S(CONC, C2_FREE, K, { pts: true, w: 1 })] },
  { l: 576, t: 193, w: 108, h: 107, x: X_50, y: Y_SIG, s: [S(D2_GREEN_T, D2_GREEN, G), S(D2_ORANGE_T, D2_ORANGE, O), S(D2_RED_T, D2_RED, R), S(D2_DARKRED_T, D2_DARKRED, "#e8262b"), S(D2_BLACK_T, D2_BLACK, K)] },

  { l: 46, t: 357, w: 108, h: 108, x: X_20, y: Y_50, s: [S(A3_T, A3_GRAY, GY), S(A3_T, A3_BLACK, K), S(A3_T, A3_ORANGE, O), S(A3_T, A3_GREEN, G), S(A3_T, A3_BLUE, B), S(A3_T, A3_DARKRED, DR), S(A3_T, A3_RED, R), S(A3_T, A3_PURPLE, P)] },
  { l: 231, t: 357, w: 108, h: 108, x: X_20, y: Y_05, s: [S(B3_T, B3_GRAY, GY, { step: true }), S(B3_T, B3_BLACK, K, { step: true }), S(B3_T, B3_DARKRED, DR, { step: true }), S(B3_T, B3_ORANGE, O, { step: true }), S(B3_T, B3_GREEN, G, { step: true }), S(B3_T, B3_BLUE, B, { step: true }), S(B3_T, B3_RED, R, { step: true }), S(B3_T, B3_PURPLE, P, { step: true })] },
  { l: 408, t: 357, w: 108, h: 108, x: X_20, y: Y_05, s: [S(B3_T, C3_GRAY, GY, { step: true }), S(B3_T, C3_ORANGE, O, { step: true }), S(B3_T, C3_GREEN, G, { step: true }), S(B3_T, C3_BLUE, B, { step: true }), S(B3_T, C3_RED, R, { step: true }), S(B3_T, C3_PURPLE, P, { step: true, w: 1.5 })] },
  { l: 576, t: 357, w: 108, h: 108, x: X_20, y: Y_50, s: [S(D3_T, D3_ORANGE, O, { w: 1.4 }), S(D3_T, D3_RED, R, { w: 1.4 }), S(D3_T, D3_DARKRED, DR, { w: 1.4 }), S(D3_T, D3_BLACK, K, { w: 1.4 }), S(D3_T, D3_GREEN, G, { w: 1.4 })] },

  { l: 46, t: 522, w: 108, h: 108, x: X_50, y: Y_30, s: [S(T31, A4_GRAY, GY), S(T31, A4_ORANGE, O), S(T31, A4_DARKRED, DR), S(T31, A4_BLACK, K), S(T31, A4_RED, R), S(T31, A4_BLUE, B), S(T31, A4_GREEN, G), S(T31, A4_PURPLE, P)] },
  { l: 231, t: 522, w: 108, h: 108, x: X_50, y: Y_05, s: [S(T31, B4_GRAY, GY), S(T31, B4_BLACK, K), S(T31, B4_DARKRED, DR), S(T31, B4_ORANGE, O), S(T31, B4_GREEN, G), S(T31, B4_RED, R), S(T31, B4_BLUE, B), S(T31, B4_PURPLE, P)] },
  { l: 408, t: 522, w: 108, h: 108, x: X_50, y: Y_05, s: [S(T31, C4_GRAY, GY, { step: true }), S(T31, C4_BLACK, K, { step: true }), S(T31, C4_RED, R, { step: true, w: 1.5 }), S(T31, C4_ORANGE, O, { step: true }), S(T31, C4_GREEN, G, { step: true }), S(T31, C4_BLUE, B, { step: true }), S(T31, C4_PURPLE, P, { step: true })] },
  { l: 576, t: 522, w: 108, h: 108, x: X_50, y: Y_30, s: [S(T19, D4_ORANGE, O, { w: 1.4 }), S(T19, D4_DARKRED, DR, { w: 1.4 }), S(T19, D4_RED, R, { w: 1.4 }), S(T19, D4_BLACK, K), S(T19, D4_GREEN, G, { w: 1.4 })] },

  { l: 46, t: 687, w: 108, h: 108, x: X_50, y: Y_20, s: [S(T19, A5_BLACK, K), S(T19, A5_DARKRED, DR), S(T19, A5_GREEN, G), S(T19, A5_ORANGE, O), S(T19, A5_RED, R), S(T19, A5_GRAY, GY), S(T19, A5_BLUE, B), S(T19, A5_PURPLE, P)] },
  { l: 231, t: 687, w: 108, h: 108, x: X_50, y: Y_2, s: [S(T19, B5_BLACK, K), S(T19, B5_DARKRED, DR), S(T19, B5_BLUE, B), S(T19, B5_GREEN, G), S(T19, B5_ORANGE, O), S(T19, B5_RED, R), S(T19, B5_GRAY, GY), S(T19, B5_PURPLE, P)] },
  { l: 408, t: 687, w: 108, h: 108, x: X_50, y: Y_2, s: [S(T19, C5_BLACK, K), S(T19, C5_DARKRED, DR), S(T19, C5_GRAY, GY), S(T19, C5_ORANGE, O), S(T19, C5_BLUE, B), S(T19, C5_PURPLE, P), S(T19, C5_GREEN, G), S(T19, C5_RED, R)] },
  { l: 576, t: 687, w: 108, h: 108, x: X_50, y: Y_20, s: [S(T19, D5_GRAY, GY), S(T19, D5_ORANGE, O), S(T19, D5_DARKRED, DR), S(T19, D5_RED, R), S(T19, D5_GREEN, G), S(T19, D5_BLACK, K)] },
];

const LW = 36, TP = 8, RP = 20, BH = 26;
const TICK_FONT = 9.5;

const supPlugin = {
  id: "supTicks",
  afterDraw(chart: any, _a: any, opts: any) {
    const ctx = chart.ctx;
    ["x", "y"].forEach((key) => {
      const list = opts && opts[key];
      if (!list) return;
      const sc = chart.scales[key];
      list.forEach((item: any) => {
        const val = item[0], exp = item[1];
        if (!exp) return;
        const p = sc.getPixelForValue(val);
        ctx.save();
        ctx.fillStyle = "#111";
        ctx.textAlign = "left";
        ctx.textBaseline = "alphabetic";
        ctx.font = `${TICK_FONT}px ${FONT}`;
        const bw = ctx.measureText("10").width;
        ctx.font = `7px ${FONT}`;
        const ew = ctx.measureText(exp).width;
        let bx, by;
        if (key === "x") {
          bx = p - bw / 2;
          by = sc.top + 16;
        } else {
          bx = sc.right - 3 - ew - bw;
          by = p + 3.4;
        }
        ctx.font = `${TICK_FONT}px ${FONT}`;
        ctx.fillText("10", bx, by);
        ctx.font = `7px ${FONT}`;
        ctx.fillText(exp, bx + bw, by - 4.5);
        ctx.restore();
      });
    });
  },
};

function scaleCfg(ax: any, isX: boolean) {
  return {
    type: ax.log ? "logarithmic" : "linear",
    position: isX ? "bottom" : "left",
    min: ax.min,
    max: ax.max,
    afterBuildTicks: (s: any) => {
      s.ticks = ax.ticks.map((v: number) => ({ value: v }));
    },
    afterFit: (s: any) => {
      if (isX) s.height = BH;
      else s.width = LW;
    },
    ticks: {
      display: !ax.sup,
      autoSkip: false,
      maxRotation: 0,
      minRotation: 0,
      padding: isX ? 0 : 1,
      color: "#111",
      font: { family: FONT, size: TICK_FONT },
      callback: (v: any, i: number) => (ax.labels ? ax.labels[i] : String(v)),
    },
    grid: { drawOnChartArea: false, drawTicks: true, tickLength: 3, color: "#222", lineWidth: 1 },
    border: { display: true, color: "#222", width: 1 },
  };
}

function PanelChart({ p }: { p: any }) {
  const ref = useRef<HTMLCanvasElement>(null);
  const cw = LW + p.w + RP, ch = TP + p.h + BH;
  useEffect(() => {
    const datasets = p.s
      .slice()
      .reverse()
      .map((s: any) => ({
        data: s.t.map((t: number, i: number) => ({ x: t, y: s.v[i] })),
        borderColor: s.c,
        backgroundColor: s.c,
        borderWidth: s.w || 1.3,
        borderDash: s.dash || [],
        stepped: s.step ? "after" : false,
        pointRadius: s.pts ? 3.3 : 0,
        pointBackgroundColor: "#000",
        pointBorderWidth: 0,
        fill: false,
        tension: 0,
      }));
    const chart = new Chart(ref.current as HTMLCanvasElement, {
      type: "line",
      data: { datasets },
      options: {
        animation: false,
        responsive: false,
        events: [],
        layout: { padding: { left: 0, top: TP, right: RP, bottom: 0 } },
        plugins: {
          legend: { display: false },
          tooltip: { enabled: false },
          supTicks: {
            x: p.x.sup ? p.x.ticks.map((v: number, i: number) => [v, p.x.sup[i]]) : null,
            y: p.y.sup ? p.y.ticks.map((v: number, i: number) => [v, p.y.sup[i]]) : null,
          },
        } as any,
        scales: { x: scaleCfg(p.x, true), y: scaleCfg(p.y, false) } as any,
      },
      plugins: [supPlugin],
    } as any);
    return () => chart.destroy();
  }, []);
  return (
    <canvas
      ref={ref}
      width={cw}
      height={ch}
      style={{ position: "absolute", left: p.l - LW, top: p.t - TP, width: cw, height: ch }}
    />
  );
}

const Txt = ({ x, y, size = 9.5, it = false, c = false, color = "#111", children }: any) => (
  <div
    style={{
      position: "absolute",
      left: x,
      top: y - 0.8465 * size,
      fontSize: size,
      lineHeight: `${size}px`,
      fontFamily: FONT,
      fontStyle: it ? "italic" : "normal",
      whiteSpace: "nowrap",
      color,
      transform: c ? "translateX(-50%)" : undefined,
    }}
  >
    {children}
  </div>
);

const YT = ({ x, y, children }: any) => (
  <div
    style={{
      position: "absolute",
      left: x,
      top: y,
      fontSize: 9.2,
      lineHeight: "10px",
      fontFamily: FONT,
      whiteSpace: "nowrap",
      color: "#111",
      transform: "translate(-50%,-50%) rotate(-90deg)",
    }}
  >
    {children}
  </div>
);

const Sub = ({ children }: any) => (
  <span style={{ fontSize: 6.5, position: "relative", top: 2 }}>{children}</span>
);

export default function App() {
  useEffect(() => {
    document.body.style.margin = "0";
  }, []);
  const rowA = [12.7, 201.7, 380.7, 546.7];
  return (
    <div style={{ position: "absolute", left: 0, top: 0, width: 708, height: 825, background: "#fff", overflow: "hidden" }}>
      {PANELS.map((p, i) => (
        <PanelChart key={i} p={p} />
      ))}

      {/* column letters */}
      <Txt x={4} y={20.7} size={18}>A</Txt>
      <Txt x={181.5} y={20.7} size={18}>B</Txt>
      <Txt x={361.5} y={20.7} size={18}>C</Txt>
      <Txt x={538} y={20.7} size={18}>D</Txt>
      <Txt x={25} y={20.7} size={15} it>i</Txt>
      <Txt x={213} y={20.7} size={15} it>i</Txt>
      <Txt x={387.5} y={20.7} size={15} it>i</Txt>
      <Txt x={561} y={20.7} size={15} it>i</Txt>

      {/* titles */}
      <Txt x={99} y={18.3} size={12} c>synaptic cleft</Txt>
      <Txt x={99} y={30.5} size={12} c>(above the PSD)</Txt>
      <Txt x={286.7} y={18.3} size={12} c>perisynaptic</Txt>
      <Txt x={458.3} y={18.3} size={12} c>neighboring synapse</Txt>
      <Txt x={631.7} y={18.3} size={12} c>iGluSnFR also</Txt>
      <Txt x={631.7} y={30.5} size={12} c>in synaptic cleft</Txt>

      {/* legend in A i */}
      <Txt x={70} y={74.7} size={9.5}>[iGluSnFR] (µM)</Txt>
      <div style={{ position: "absolute", left: 70, top: 76.5, width: 69, height: 1, background: "#000" }} />
      <Txt x={70} y={84} size={9.5}>
        <span style={{ color: K }}>3000</span>, <span style={{ color: DR }}>1000</span>, <span style={{ color: R }}>300</span>
      </Txt>
      <Txt x={70} y={94.3} size={9.5}>
        <span style={{ color: O }}>100</span>, <span style={{ color: G }}>30</span>, <span style={{ color: B }}>10</span>, <span style={{ color: "#444" }}>3</span>, <span style={{ color: GY }}>1</span>
      </Txt>

      {/* roman numerals */}
      <Txt x={21} y={185} size={15} it>ii</Txt>
      <Txt x={206} y={185} size={15} it>ii</Txt>
      <Txt x={378} y={185} size={15} it>ii</Txt>
      <Txt x={560} y={185} size={15} it>ii</Txt>
      <Txt x={20} y={350} size={15} it>iii</Txt>
      <Txt x={204} y={350} size={15} it>iii</Txt>
      <Txt x={387} y={350} size={15} it>iii</Txt>
      <Txt x={551} y={350} size={15} it>iii</Txt>
      <Txt x={20} y={514.3} size={15} it>iv</Txt>
      <Txt x={203} y={514.3} size={15} it>iv</Txt>
      <Txt x={377} y={514.3} size={15} it>iv</Txt>
      <Txt x={552} y={514.3} size={15} it>iv</Txt>
      <Txt x={20} y={680} size={15} it>v</Txt>
      <Txt x={205} y={680} size={15} it>v</Txt>
      <Txt x={376} y={680} size={15} it>v</Txt>
      <Txt x={552} y={680} size={15} it>v</Txt>

      <Txt x={630} y={186.7} size={11.5} c>cleft iGluSnFR signal</Txt>
      <Txt x={93.3} y={219} size={9.5}>0 iGluSnFR</Txt>
      <Txt x={284} y={217} size={9.5}>0 iGluSnFR</Txt>
      <Txt x={453} y={232.5} size={9.5}>0 iGluSnFR</Txt>

      {/* y titles */}
      <YT x={rowA[0]} y={82}>[glu] (mM)</YT>
      <YT x={rowA[1]} y={82}>[glu] (µM)</YT>
      <YT x={rowA[2]} y={82}>[glu] (µM)</YT>
      <YT x={rowA[3]} y={82}>[glu] (M)</YT>
      <YT x={13.3} y={248}>[glu]<Sub>free</Sub> (mM)</YT>
      <YT x={202.7} y={248}>[glu]<Sub>free</Sub> (µM)</YT>
      <YT x={371.3} y={248}>[glu]<Sub>free</Sub> (µM)</YT>
      <YT x={545.7} y={246.5}>iGluSnFR activation</YT>
      {[411, 576, 741].map((cy, r) =>
        [21.7, 201.7, 380.7, 547.3].map((cx, c) => (
          <YT key={`${r}-${c}`} x={cx} y={cy}>
            {["AMPAR activation (%)", "NMDAR activation (%)", "mGluR activation (%)"][r]}
          </YT>
        ))
      )}

      {/* x titles */}
      {[90, 279, 455.5, 629.5].map((cx, i) => (
        <Txt key={"m1" + i} x={cx} y={161.8} c>ms</Txt>
      ))}
      <Txt x={90} y={333.5} c>[iGLuSnFR] (M)</Txt>
      <Txt x={279.5} y={333.5} c>[iGLuSnFR] (M)</Txt>
      <Txt x={447.5} y={333.5} c>[iGLuSnFR] (M)</Txt>
      <Txt x={630} y={322.8} c>ms</Txt>
      {[491.2, 655.2, 821.2].map((by, r) =>
        [100, 285, 462, 630].map((cx, c) => (
          <Txt key={`mx${r}-${c}`} x={cx} y={by} c>ms</Txt>
        ))
      )}
    </div>
  );
}
